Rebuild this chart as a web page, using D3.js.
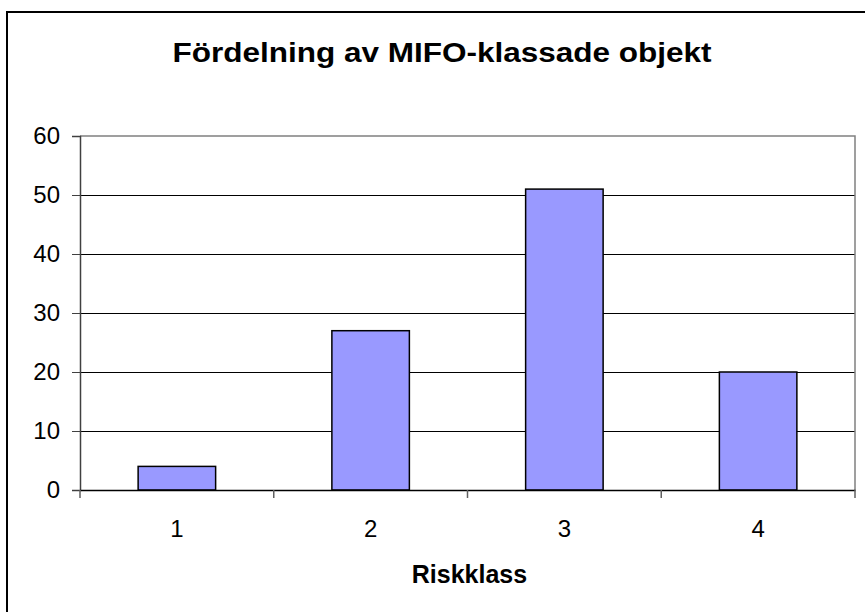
<!DOCTYPE html>
<html><head><meta charset="utf-8">
<script src="https://cdn.jsdelivr.net/npm/d3@7"></script>
<style>body{margin:0;background:#fff}svg{display:block}text{font-family:"Liberation Sans",Arial,sans-serif;fill:#000}</style>
</head><body>
<svg id="c" width="865" height="612"></svg>
<script>
const categories = ["1", "2", "3", "4"];
const values = [4, 27, 51, 20];
const yTicks = [0, 10, 20, 30, 40, 50, 60];
const title = "Fördelning av MIFO-klassade objekt";
const xTitle = "Riskklass";

const svg = d3.select("#c");
const W = 865, H = 612;
const m = {left: 80, right: 855, top: 136, bottom: 490};

svg.append("rect").attr("x", 0).attr("y", 0).attr("width", W).attr("height", H).attr("fill", "#fff");
// outer chart border (clipped on right/bottom)
svg.append("rect").attr("x", 7).attr("y", 12).attr("width", W + 10).attr("height", H + 10)
  .attr("fill", "none").attr("stroke", "#000").attr("stroke-width", 2);

const x = d3.scaleBand().domain(categories).range([m.left, m.right]).paddingInner(0.6).paddingOuter(0.3);
const y = d3.scaleLinear().domain([0, 60]).range([m.bottom, m.top]);

// gridlines
svg.append("g").selectAll("line").data(yTicks.filter(d => d > 0 && d < 60)).join("line")
  .attr("x1", m.left).attr("x2", m.right).attr("y1", d => y(d)).attr("y2", d => y(d))
  .attr("stroke", "#000").attr("stroke-width", 1).attr("shape-rendering", "crispEdges");

// plot area border top/right (gray)
svg.append("path")
  .attr("d", `M${m.left},${y(60)}H${m.right}V${m.bottom}`)
  .attr("fill", "none").attr("stroke", "#808080").attr("stroke-width", 1.5);

// bars
svg.append("g").selectAll("rect").data(values).join("rect")
  .attr("x", (d, i) => x(categories[i]))
  .attr("y", d => y(d))
  .attr("width", x.bandwidth())
  .attr("height", d => y(0) - y(d))
  .attr("fill", "#9999FF").attr("stroke", "#000").attr("stroke-width", 1.5);

// y axis
const yAxis = d3.axisLeft(y).tickValues(yTicks).tickSize(8).tickPadding(12);
const gy = svg.append("g").attr("transform", `translate(${m.left},0)`).call(yAxis);
gy.select(".domain").attr("stroke", "#404040").attr("stroke-width", 1.5);
gy.selectAll(".tick line").attr("stroke", "#404040");
gy.selectAll(".tick text").attr("font-size", 24).attr("font-family", "Liberation Sans, Arial, sans-serif").attr("fill", "#000");

// x axis
const xAxis = d3.axisBottom(x).tickSize(0).tickPadding(30);
const gx = svg.append("g").attr("transform", `translate(0,${m.bottom})`).call(xAxis);
gx.select(".domain").attr("stroke", "#000").attr("stroke-width", 1.5);
gx.selectAll(".tick text").attr("font-size", 24).attr("font-family", "Liberation Sans, Arial, sans-serif").attr("fill", "#000");
// tick marks between categories
const bounds = categories.map(c => x(c) - x.step() * x.paddingInner() / 2 - (x(c) === x(categories[0]) ? x.step()*(x.paddingOuter()) - x.step()*x.paddingInner()/2 : 0));
const edges = d3.range(categories.length + 1).map(i => m.left + i * (m.right - m.left) / categories.length);
svg.append("g").selectAll("line").data(edges).join("line")
  .attr("x1", d => d).attr("x2", d => d).attr("y1", m.bottom).attr("y2", m.bottom + 8)
  .attr("stroke", "#606060").attr("stroke-width", 1.5);

// titles
svg.append("text").attr("x", 442).attr("y", 62).attr("text-anchor", "middle")
  .attr("font-size", 28).attr("font-weight", "bold").attr("textLength", 539).attr("lengthAdjust", "spacingAndGlyphs").text(title);
svg.append("text").attr("x", (m.left + m.right) / 2 + 2).attr("y", 583).attr("text-anchor", "middle")
  .attr("font-size", 25).attr("font-weight", "bold").text(xTitle);
</script>
</body></html>
